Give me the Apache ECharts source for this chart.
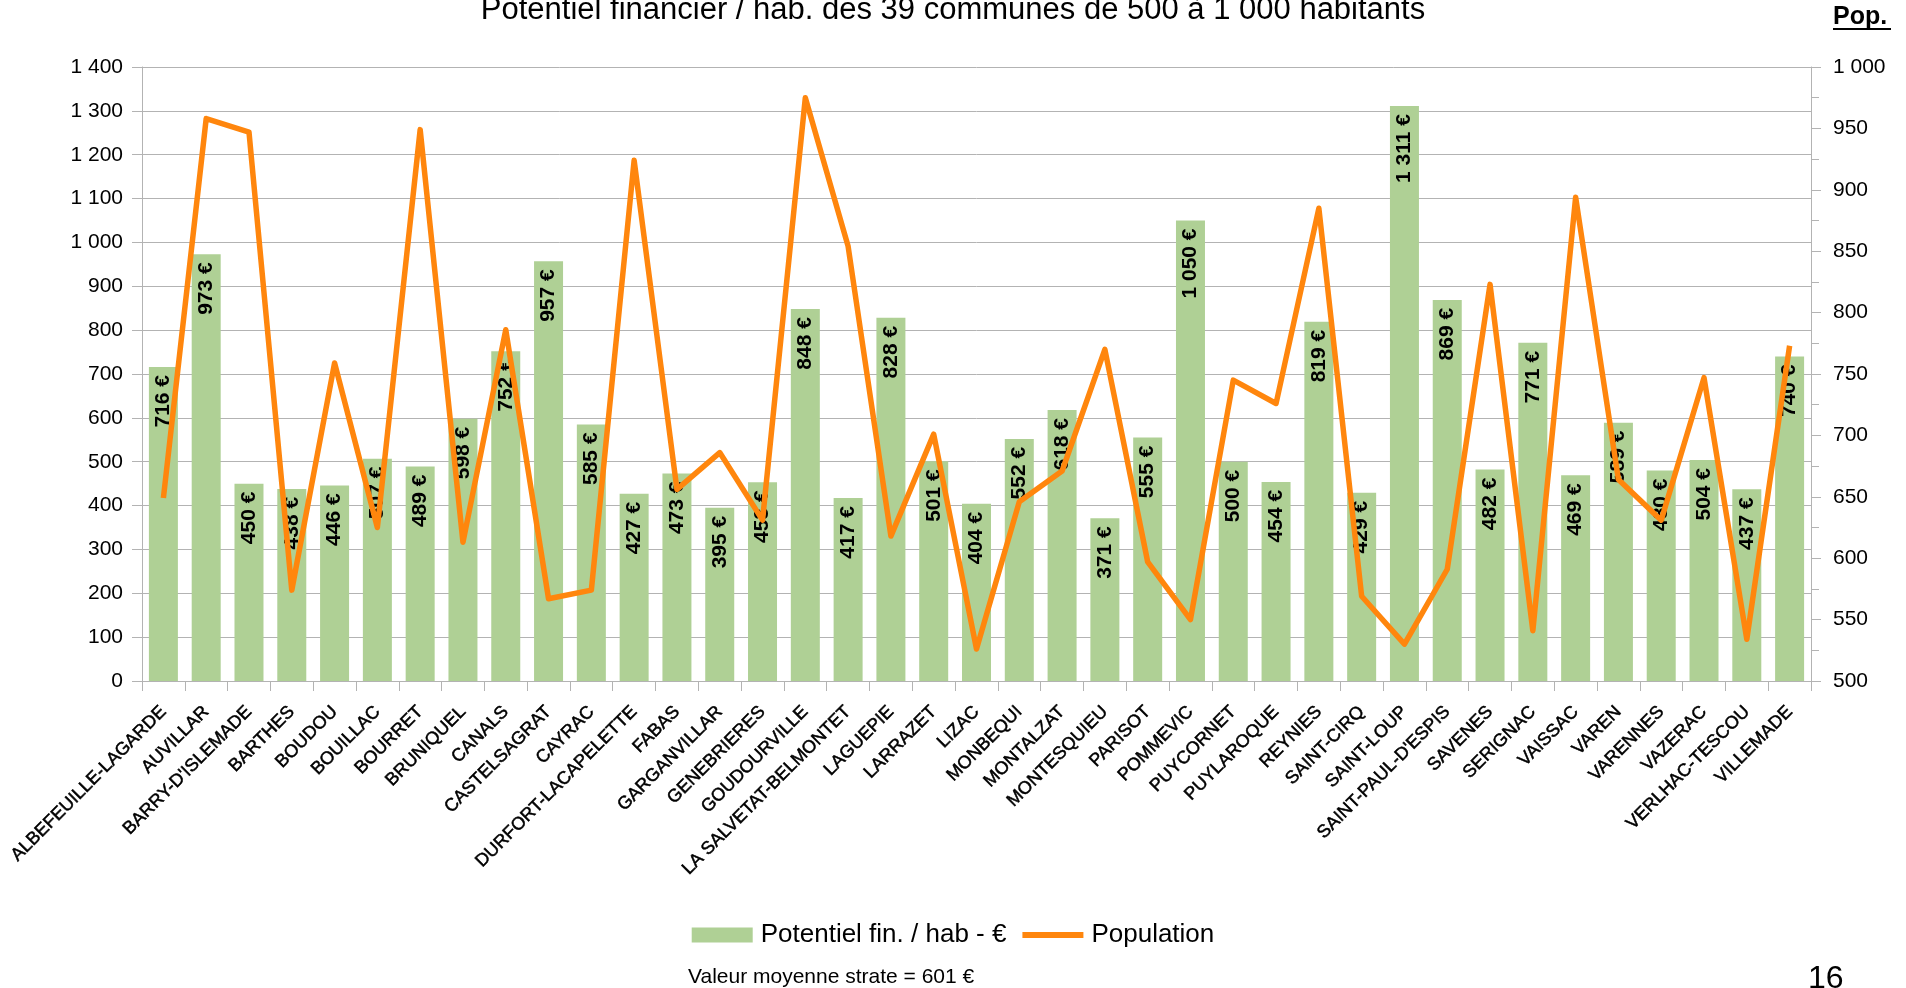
<!DOCTYPE html>
<html>
<head>
<meta charset="utf-8">
<title>Potentiel financier</title>
<script src="https://cdn.jsdelivr.net/npm/echarts@6.0.0/dist/echarts.min.js"></script>
<style>
  html, body { margin: 0; padding: 0; background: #fff; }
  #chart { width: 1906px; height: 988px; }
</style>
</head>
<body>
<div id="chart"></div>
<script>
// communes (categories)
const communes = [
  'ALBEFEUILLE-LAGARDE', 'AUVILLAR', "BARRY-D'ISLEMADE", 'BARTHES', 'BOUDOU',
  'BOUILLAC', 'BOURRET', 'BRUNIQUEL', 'CANALS', 'CASTELSAGRAT',
  'CAYRAC', 'DURFORT-LACAPELETTE', 'FABAS', 'GARGANVILLAR', 'GENEBRIERES',
  'GOUDOURVILLE', 'LA SALVETAT-BELMONTET', 'LAGUEPIE', 'LARRAZET', 'LIZAC',
  'MONBEQUI', 'MONTALZAT', 'MONTESQUIEU', 'PARISOT', 'POMMEVIC',
  'PUYCORNET', 'PUYLAROQUE', 'REYNIES', 'SAINT-CIRQ', 'SAINT-LOUP',
  "SAINT-PAUL-D'ESPIS", 'SAVENES', 'SERIGNAC', 'VAISSAC', 'VAREN',
  'VARENNES', 'VAZERAC', 'VERLHAC-TESCOU', 'VILLEMADE'
]

// potentiel financier / hab (€)
const potentiel = [
  716, 973, 450, 438, 446, 507, 489, 598, 752, 957,
  585, 427, 473, 395, 453, 848, 417, 828, 501, 404,
  552, 618, 371, 555, 1050, 500, 454, 819, 429, 1311,
  869, 482, 771, 469, 589, 480, 504, 437, 740
]

// population
const population = [
  649, 958, 947, 574, 759, 625, 949, 613, 786, 567,
  574, 924, 656, 686, 631, 975, 854, 618, 701, 526,
  646, 671, 770, 597, 550, 745, 726, 885, 569, 530,
  591, 823, 541, 894, 664, 631, 747, 534, 773
]

const titleText = 'Potentiel financier / hab. des 39 communes de 500 à 1 000 habitants'
const footnote = 'Valeur moyenne strate = 601 €'
const pageNumber = '16'

const FONT = '"Liberation Sans", Arial, sans-serif'
const NARROW = '"Liberation Sans Narrow", "Liberation Sans", Arial, sans-serif'

function fmt(v) {
  return String(v).replace(/\B(?=(\d{3})+(?!\d))/g, ' ')
}

const myChart = echarts.init(document.getElementById('chart'))

const option = {
  animation: false,
  textStyle: { fontFamily: FONT },
  title: {
    text: titleText,
    left: 'center',
    top: -10,
    textStyle: { fontFamily: FONT, fontSize: 31, fontWeight: 'normal', color: '#000' }
  },
  legend: {
    top: 917,
    left: 'center',
    itemWidth: 61,
    itemHeight: 15,
    itemGap: 16,
    textStyle: { fontFamily: FONT, fontSize: 26, color: '#000', padding: [0, 0, 0, 3] },
    data: [
      { name: 'Potentiel fin. / hab - €', icon: 'rect' },
      { name: 'Population', icon: 'path://M0,0L58,0L58,5.5L0,5.5Z' }
    ]
  },
  grid: {
    left: 142,
    right: 95,
    top: 67,
    bottom: 307
  },
  xAxis: {
    type: 'category',
    data: communes,
    axisLine: { lineStyle: { color: '#b3b3b3' } },
    axisTick: { show: true, length: 10, inside: false, interval: 0, lineStyle: { color: '#b3b3b3' } },
    axisLabel: {
      interval: 0,
      rotate: 45,
      margin: 28,
      color: '#000',
      fontFamily: FONT,
      fontSize: 18,
      textBorderColor: '#000',
      textBorderWidth: 0.5
    }
  },
  yAxis: [
    {
      type: 'value',
      min: 0,
      max: 1400,
      interval: 100,
      axisLine: { show: true, lineStyle: { color: '#b3b3b3' } },
      axisTick: { show: true, length: 10, lineStyle: { color: '#b3b3b3' } },
      axisLabel: {
        margin: 19,
        color: '#000',
        fontFamily: FONT,
        fontSize: 21,
        formatter: v => fmt(v)
      },
      splitLine: { show: true, lineStyle: { color: '#b3b3b3', width: 1 } }
    },
    {
      type: 'value',
      min: 500,
      max: 1000,
      interval: 50,
      position: 'right',
      axisLine: { show: true, lineStyle: { color: '#b3b3b3' } },
      axisTick: { show: true, length: 10, lineStyle: { color: '#b3b3b3' } },
      minorTick: { show: true, splitNumber: 2, length: 8, lineStyle: { color: '#b3b3b3' } },
      axisLabel: {
        margin: 22,
        color: '#000',
        fontFamily: FONT,
        fontSize: 21,
        formatter: v => fmt(v)
      },
      splitLine: { show: false }
    }
  ],
  series: [
    {
      name: 'Potentiel fin. / hab - €',
      type: 'bar',
      data: potentiel,
      barWidth: 29,
      itemStyle: { color: '#afd095' },
      label: {
        show: true,
        position: 'insideTop',
        distance: 8,
        rotate: 90,
        align: 'right',
        verticalAlign: 'middle',
        color: '#000',
        fontFamily: NARROW,
        fontWeight: 'bold',
        fontSize: 21,
        formatter: p => fmt(p.value) + ' €'
      },
      z: 2
    },
    {
      name: 'Population',
      type: 'line',
      yAxisIndex: 1,
      data: population,
      symbol: 'none',
      lineStyle: { color: '#ff860d', width: 5.5, join: 'round' },
      itemStyle: { color: '#ff860d' },
      z: 3
    }
  ],
  graphic: [
    {
      type: 'text',
      left: 1833,
      top: 5,
      style: { text: 'Pop.', font: 'bold 25px ' + FONT, fill: '#000' }
    },
    {
      type: 'line',
      shape: { x1: 1833, y1: 29, x2: 1891, y2: 29 },
      style: { stroke: '#000', lineWidth: 2 }
    },
    {
      type: 'text',
      left: 688,
      top: 967,
      style: { text: footnote, font: '21px ' + FONT, fill: '#000' }
    },
    {
      type: 'text',
      left: 1808,
      top: 963,
      style: { text: pageNumber, font: '32px ' + FONT, fill: '#000' }
    }
  ]
}

myChart.setOption(option)
window.addEventListener('resize', () => myChart.resize())
</script>
</body>
</html>
